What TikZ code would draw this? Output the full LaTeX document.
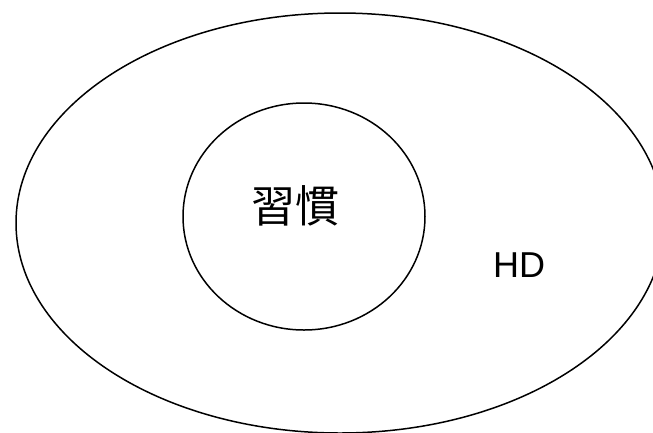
\documentclass[tikz,border=0pt]{standalone}
\usepackage{fontspec}
\setmainfont{Liberation Sans}
\newfontfamily\cjkfont{Noto Sans CJK TC}
\usetikzlibrary{shapes.geometric}
\tikzset{
  ring/.style={draw=black, line width=1.5pt, ellipse, inner sep=0pt},
  lbl/.style={inner sep=0pt, text=black}
}
\begin{document}
\begin{tikzpicture}[x=1pt,y=-1pt]
\useasboundingbox (0,0) rectangle (653,432);
\clip (0,0) rectangle (653,432);
\node[ring, minimum width=648pt, minimum height=420pt] (outer) at (340,223) {};
\node[ring, minimum width=242pt, minimum height=227pt] (inner) at (304,216.5) {};
\node[lbl, font=\cjkfont\fontsize{44pt}{44pt}\selectfont] (habit) at (295,206) {習慣};
\node[lbl, font=\fontsize{36pt}{36pt}\selectfont] (hd) at (519,265) {HD};
\end{tikzpicture}
\end{document}
